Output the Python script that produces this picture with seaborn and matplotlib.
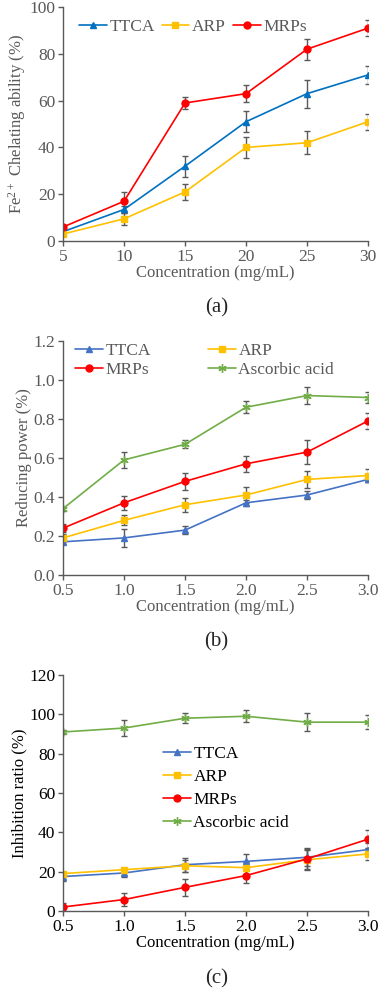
import seaborn as sns
import matplotlib.pyplot as plt
import pandas as pd

# Panel (a): Fe2+ chelating ability
conc_a = [5, 10, 15, 20, 25, 30]
a_ttca = [4, 13.5, 32, 51, 63, 71]
a_ttca_err = [1, 1.5, 4.5, 4.5, 6, 4]
a_arp = [3, 9.5, 21, 40, 42, 51]
a_arp_err = [1, 2.5, 3.5, 4.5, 5, 3.5]
a_mrps = [6, 17, 59, 63, 82, 91]
a_mrps_err = [1, 4, 2.5, 3.5, 4.5, 3.5]

# Panel (b): reducing power
conc_bc = [0.5, 1.0, 1.5, 2.0, 2.5, 3.0]
b_ttca = [0.17, 0.19, 0.23, 0.37, 0.41, 0.49]
b_ttca_err = [0.01, 0.045, 0.02, 0.015, 0.02, 0.015]
b_arp = [0.19, 0.28, 0.36, 0.41, 0.49, 0.51]
b_arp_err = [0.02, 0.025, 0.035, 0.04, 0.045, 0.035]
b_mrps = [0.24, 0.37, 0.48, 0.57, 0.63, 0.79]
b_mrps_err = [0.02, 0.035, 0.045, 0.04, 0.06, 0.04]
b_asc = [0.34, 0.59, 0.67, 0.86, 0.92, 0.91]
b_asc_err = [0.01, 0.04, 0.02, 0.03, 0.045, 0.03]

# Panel (c): inhibition ratio
c_ttca = [17.5, 19.3, 23.5, 25.2, 27.3, 31.2]
c_ttca_err = [2.5, 2, 3.5, 4, 4.5, 3.5]
c_arp = [19, 21, 23, 22, 26, 29]
c_arp_err = [1, 1, 3, 3, 5, 3]
c_mrps = [2, 5.8, 12, 18, 26.5, 36.5]
c_mrps_err = [2, 3.5, 4.5, 4, 5, 4.5]
c_asc = [91, 93, 98, 99, 96, 96]
c_asc_err = [1, 4, 2.5, 3, 4.5, 3.5]

sns.set_style("ticks")
plt.rcParams['font.family'] = ['Liberation Serif', 'DejaVu Serif']
plt.rcParams['mathtext.fontset'] = 'custom'
plt.rcParams['mathtext.rm'] = 'Liberation Serif'

styles = {
    'TTCA': dict(color='#4472C4', marker='^', ms=4.5),
    'ARP': dict(color='#FFC000', marker='s', ms=4.5),
    'MRPs': dict(color='#FF0000', marker='o', ms=5),
    'Ascorbic acid': dict(color='#70AD47', marker=(6, 2, 0), ms=6),
}
ERR_COL = '#595959'
GRAY = '#595959'
TICK_FS = 12.5
LAB_FS = 12
LEG_FS = 12.5
LEG_KW = dict(frameon=False, fontsize=LEG_FS, handlelength=1.6, handletextpad=0.15,
              borderpad=0, borderaxespad=0)


def draw(ax, x, series, text_col, colors=None):
    colors = colors or {}
    for name, y, err in series:
        st = styles[name]
        col = colors.get(name, st['color'])
        ax.errorbar(x, y, yerr=err, fmt='none', ecolor=ERR_COL, elinewidth=1,
                    capsize=2, capthick=1, zorder=1)
        df = pd.DataFrame({'x': x, 'y': y})
        sns.lineplot(data=df, x='x', y='y', ax=ax, color=col, lw=1.2,
                     marker=st['marker'], markersize=st['ms'],
                     markeredgecolor=col, markeredgewidth=1,
                     label=name, zorder=2)
    sns.despine(ax=ax)
    for s in ['left', 'bottom']:
        ax.spines[s].set_color(GRAY)
        ax.spines[s].set_linewidth(1)
    ax.tick_params(colors=GRAY, labelcolor=text_col, labelsize=TICK_FS,
                   length=3.5, width=1, direction='out', pad=2)
    ax.set_xlabel('Concentration (mg/mL)', fontsize=LAB_FS, color=text_col, labelpad=0)


fig = plt.figure(figsize=(3.78, 9.92), dpi=100)
ax_a = fig.add_axes([0.1667, 0.757, 0.807, 0.2359])
ax_b = fig.add_axes([0.1667, 0.4204, 0.807, 0.2359])
ax_c = fig.add_axes([0.1667, 0.0817, 0.807, 0.2379])

# (a)
draw(ax_a, conc_a, [('TTCA', a_ttca, a_ttca_err), ('ARP', a_arp, a_arp_err),
                    ('MRPs', a_mrps, a_mrps_err)], GRAY, colors={'TTCA': '#0070C0'})
ax_a.set_xlim(5, 30)
ax_a.set_ylim(0, 100)
ax_a.set_xticks(conc_a)
ax_a.set_yticks(range(0, 101, 20))
ax_a.set_ylabel(r'$\mathregular{Fe^{2+}}$ Chelating ability (%)', fontsize=LAB_FS,
                color=GRAY, labelpad=1)
ax_a.legend(ncol=3, loc='upper left', bbox_to_anchor=(0.052, 0.95), labelcolor=GRAY,
            columnspacing=0.4, **LEG_KW)

# (b)
draw(ax_b, conc_bc, [('TTCA', b_ttca, b_ttca_err), ('ARP', b_arp, b_arp_err),
                     ('MRPs', b_mrps, b_mrps_err), ('Ascorbic acid', b_asc, b_asc_err)], GRAY)
ax_b.set_xlim(0.5, 3.0)
ax_b.set_ylim(0, 1.2)
ax_b.set_xticks(conc_bc)
ax_b.set_xticklabels([f'{v:.1f}' for v in conc_bc])
ax_b.set_yticks([0, 0.2, 0.4, 0.6, 0.8, 1.0, 1.2])
ax_b.set_yticklabels([f'{v:.1f}' for v in [0, 0.2, 0.4, 0.6, 0.8, 1.0, 1.2]])
ax_b.set_ylabel('Reducing power (%)', fontsize=LAB_FS, color=GRAY, labelpad=1)
h, l = ax_b.get_legend_handles_labels()
order = [0, 2, 1, 3]  # row-major filling like the original
ax_b.legend([h[i] for i in order], [l[i] for i in order], ncol=2, loc='upper left',
            bbox_to_anchor=(0.039, 0.99), labelcolor=GRAY, columnspacing=3.3,
            labelspacing=0.15, **LEG_KW)

# (c)
draw(ax_c, conc_bc, [('TTCA', c_ttca, c_ttca_err), ('ARP', c_arp, c_arp_err),
                     ('MRPs', c_mrps, c_mrps_err), ('Ascorbic acid', c_asc, c_asc_err)], 'black')
ax_c.set_xlim(0.5, 3.0)
ax_c.set_ylim(0, 120)
ax_c.set_xticks(conc_bc)
ax_c.set_xticklabels([f'{v:.1f}' for v in conc_bc])
ax_c.set_yticks(range(0, 121, 20))
ax_c.set_ylabel('Inhibition ratio (%)', fontsize=LAB_FS, color='black', labelpad=1)
ax_c.legend(ncol=1, loc='upper left', bbox_to_anchor=(0.328, 0.70), labelcolor='black',
            labelspacing=0.4, **LEG_KW)

fig.text(0.572, 0.690, '(a)', ha='center', va='center', fontsize=15)
fig.text(0.572, 0.353, '(b)', ha='center', va='center', fontsize=15)
fig.text(0.572, 0.013, '(c)', ha='center', va='center', fontsize=15)

fig.savefig('out.png', dpi=100)
